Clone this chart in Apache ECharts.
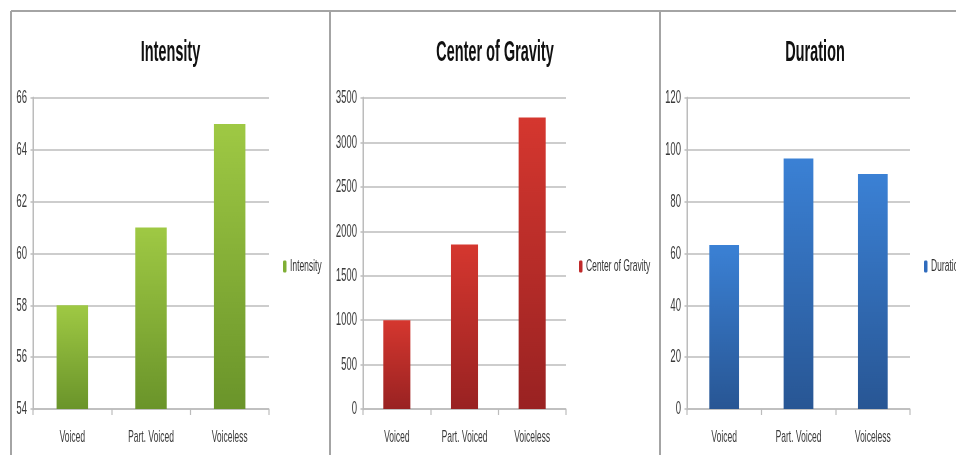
<!DOCTYPE html>
<html>
<head>
<meta charset="utf-8">
<script src="https://cdn.jsdelivr.net/npm/echarts@6/dist/echarts.min.js"></script>
<style>
  html, body { margin: 0; padding: 0; background: #fff; overflow: hidden; width: 956px; height: 455px; }
  /* The chart is laid out on a double-width canvas and shown squeezed
     horizontally, giving the tall, narrow lettering of the slide. */
  #chart { width: 1912px; height: 455px; transform: scaleX(0.5); transform-origin: 0 0; }
</style>
</head>
<body>
<div id="chart"></div>
<script>
// Category labels shared by all three panels
const categories = ['Voiced', 'Part. Voiced', 'Voiceless'];

// Series values
const intensity = [58, 61, 65];
const centerOfGravity = [1000, 1850, 3280];
const duration = [63.3, 96.7, 90.7];

// Axis ranges
const intensityAxis = { min: 54, max: 66, interval: 2 };
const gravityAxis = { min: 0, max: 3500, interval: 500 };
const durationAxis = { min: 0, max: 120, interval: 20 };

const FONT = '"Liberation Sans", Arial, sans-serif';
const GRID_COLOR = '#bcbcbc';

// Panel layout in canvas units (canvas is twice as wide as the page)
const panels = [
  { name: 'Intensity', data: intensity, axis: intensityAxis, left: 66, width: 472, titleX: 341, legendX: 566,
    top: '#9fc944', bottom: '#6a942a', swatch: '#7fae35' },
  { name: 'Center of Gravity', data: centerOfGravity, axis: gravityAxis, left: 726, width: 406, titleX: 990, legendX: 1158,
    top: '#d5372f', bottom: '#992222', swatch: '#c0292a' },
  { name: 'Duration', data: duration, axis: durationAxis, left: 1374, width: 446, titleX: 1630, legendX: 1848,
    top: '#3b81d5', bottom: '#285694', swatch: '#2f6bbd' }
];

function grad(top, bottom) {
  return new echarts.graphic.LinearGradient(0, 0, 0, 1, [
    { offset: 0, color: top },
    { offset: 1, color: bottom }
  ]);
}

const option = {
  animation: false,
  backgroundColor: '#ffffff',
  title: panels.map(p => ({
    text: p.name,
    left: p.titleX,
    top: 38,
    textAlign: 'center',
    padding: 0,
    textStyle: { fontFamily: FONT, fontSize: 29, fontWeight: 'bold', color: '#111' }
  })),
  legend: panels.map(p => ({
    data: [p.name],
    left: p.legendX,
    top: 258,
    orient: 'vertical',
    itemWidth: 7,
    itemHeight: 12,
    padding: 0,
    selectedMode: false,
    textStyle: { fontFamily: FONT, fontSize: 17, color: '#333', padding: [0, 0, 0, 2] },
    itemStyle: { color: p.swatch }
  })),
  grid: panels.map(p => ({ left: p.left, width: p.width, top: 98, height: 311, containLabel: false })),
  xAxis: panels.map((p, i) => ({
    type: 'category',
    gridIndex: i,
    data: categories,
    axisLine: { show: true, lineStyle: { color: GRID_COLOR, width: 1.5 } },
    axisTick: { show: true, alignWithLabel: false, length: 6, lineStyle: { color: GRID_COLOR, width: 2.4 } },
    axisLabel: { interval: 0, margin: 20, fontFamily: FONT, fontSize: 17, color: '#3a3a3a' },
    splitLine: { show: false }
  })),
  yAxis: panels.map((p, i) => ({
    type: 'value',
    gridIndex: i,
    min: p.axis.min,
    max: p.axis.max,
    interval: p.axis.interval,
    axisLine: { show: true, lineStyle: { color: GRID_COLOR, width: 3 } },
    axisTick: { show: true, length: 5, lineStyle: { color: GRID_COLOR, width: 1.5 } },
    axisLabel: { margin: 12, fontFamily: FONT, fontSize: 19, color: '#3a3a3a', formatter: v => String(v) },
    splitLine: { show: true, lineStyle: { color: GRID_COLOR, width: 1.5 } }
  })),
  series: panels.map((p, i) => ({
    name: p.name,
    type: 'bar',
    xAxisIndex: i,
    yAxisIndex: i,
    data: p.data,
    barWidth: '40%',
    itemStyle: { color: grad(p.top, p.bottom) }
  })),
  graphic: [
    // panel frames
    { type: 'line', shape: { x1: 22, y1: 11, x2: 1912, y2: 11 }, style: { stroke: '#a4a4a4', lineWidth: 2 } },
    { type: 'line', shape: { x1: 22, y1: 11, x2: 22, y2: 455 }, style: { stroke: '#a4a4a4', lineWidth: 4 } },
    { type: 'line', shape: { x1: 660, y1: 11, x2: 660, y2: 455 }, style: { stroke: '#a4a4a4', lineWidth: 4 } },
    { type: 'line', shape: { x1: 1320, y1: 11, x2: 1320, y2: 455 }, style: { stroke: '#a4a4a4', lineWidth: 4 } }
  ]
};

const chart = echarts.init(document.getElementById('chart'), null, { renderer: 'canvas' });
chart.setOption(option);
</script>
</body>
</html>
